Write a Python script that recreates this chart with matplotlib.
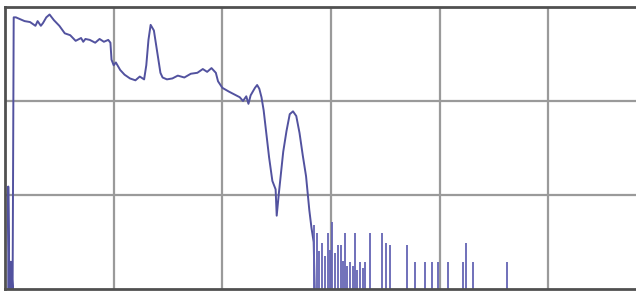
import matplotlib
matplotlib.use("Agg")
import matplotlib.pyplot as plt

# trace: x in grid units of 100, y in grid units of 10
freq = [3, 3, 4, 4.5, 5, 5.5, 7, 8,
        10, 14, 18, 23, 28, 30, 33, 35, 38, 41, 45, 50, 55, 60, 65, 70, 72, 74, 78,
        83, 87, 91, 95, 97, 98, 100, 102, 106, 110, 115, 120, 124, 128, 130, 132,
        134, 137, 139, 141, 143, 145, 149, 154, 159, 165, 171, 177, 182, 186, 190,
        194, 196, 200, 206, 211, 216, 219, 222, 224, 226, 230, 232, 234, 236, 238,
        241, 243, 246, 249, 250, 252, 254, 256, 259, 262, 265, 268, 271, 274, 277,
        280, 282, 284, 285]
level = [0, 10.9, 0, 2.9, 0, 2.9, 0, 28.9,
         28.9, 28.7, 28.5, 28.4, 28.0, 28.5, 28.0, 28.3, 28.9, 29.2, 28.6, 28.0,
         27.2, 27.0, 26.4, 26.7, 26.3, 26.6, 26.5, 26.2, 26.6, 26.3, 26.5, 26.2,
         24.4, 23.8, 24.1, 23.3, 22.8, 22.4, 22.2, 22.6, 22.3, 23.8, 26.5, 28.1,
         27.5, 26.0, 24.5, 23.0, 22.5, 22.3, 22.4, 22.7, 22.5, 22.9, 23.0, 23.4,
         23.1, 23.5, 23.0, 22.1, 21.4, 21.0, 20.7, 20.4, 20.0, 20.5, 19.7, 20.6,
         21.4, 21.7, 21.3, 20.4, 19.0, 16.0, 14.0, 11.5, 10.6, 7.8, 10.2, 12.4,
         14.6, 16.8, 18.6, 18.9, 18.4, 16.6, 14.2, 12.0, 8.4, 6.5, 5.0, 0]

# spikes in the noise floor past the roll-off
spike_freq = [284, 287, 289, 292, 294, 297, 299, 301, 304, 306, 309, 311, 313,
              315, 317, 320, 322, 324, 327, 329, 331, 336, 347, 351, 354, 370,
              377, 386, 393, 398, 408, 421, 424, 431, 462]
spike_level = [6.8, 6.0, 4.0, 4.9, 3.5, 6.0, 4.2, 7.1, 3.8, 4.7, 4.7, 3.0, 6.0,
               2.5, 2.9, 2.4, 6.0, 2.0, 2.9, 2.2, 2.9, 6.0, 6.0, 4.9, 4.7, 4.7,
               2.9, 2.9, 2.9, 2.9, 2.9, 2.9, 4.9, 2.9, 2.9]

fig = plt.figure(figsize=(6.36, 2.91), dpi=100)
# axes runs past the right edge of the picture, as in the cropped original
ax = fig.add_axes([5 / 636, 2 / 291, 651 / 636, 282 / 291])

ax.plot(freq, level, color="#52529f", lw=1.4)
ax.vlines(spike_freq, 0, spike_level, color="#6464b4", lw=1.3)

ax.set_xlim(0, 599)
ax.set_ylim(0, 30)
ax.set_xticks([100, 200, 300, 400, 500])
ax.set_yticks([10, 20])
ax.tick_params(length=0, labelbottom=False, labelleft=False)
ax.grid(True, color="#9a9a9a", lw=1.6)
ax.set_axisbelow(True)

for side in ["left", "top", "bottom"]:
    ax.spines[side].set_color("#505050")
    ax.spines[side].set_linewidth(2.0)
ax.spines["right"].set_visible(False)

fig.savefig("out.png", dpi=100)
